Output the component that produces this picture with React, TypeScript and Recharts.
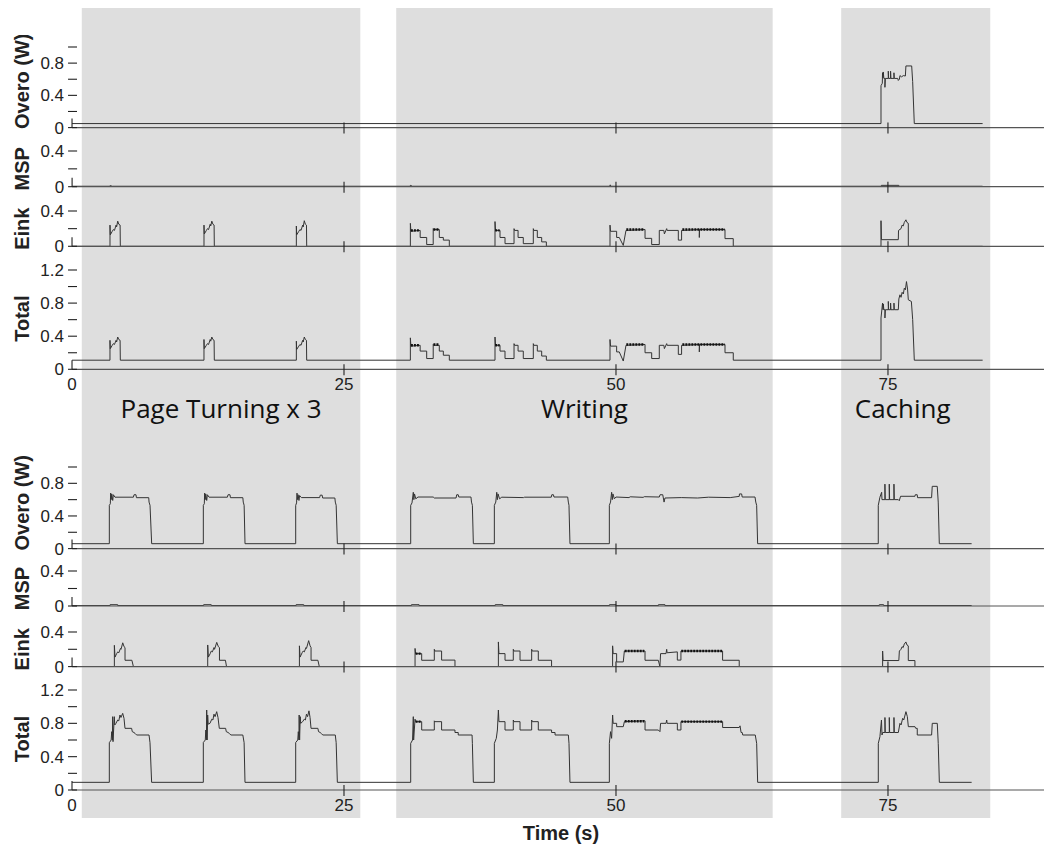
import { Label, Line, LineChart, ReferenceArea, XAxis, YAxis } from "recharts";

type Pt = [number, number];
type Seg = [number, number, number];

// time axis (s)
const X_MAX = 89.34;
const xTicks = [0, 25, 50, 75];

// shaded phases
const bandNames = ["Page Turning x 3", "Writing", "Caching"];
const bandStart = [0.9, 29.8, 70.7];
const bandEnd = [26.5, 64.4, 84.4];
const bandLabelShift = [0, 0, -13];

// ---- upper run ----
const overoTop: Pt[] = [
  [0, 0.05], [74.36, 0.05], [74.36, 0.52], [74.48, 0.55], [74.5, 0.68], [74.55, 0.62], [74.57, 0.69],
  [74.62, 0.61], [74.72, 0.61], [74.72, 0.5], [74.76, 0.61], [75.03, 0.61], [75.03, 0.7], [75.06, 0.61],
  [75.24, 0.61], [75.24, 0.7], [75.27, 0.61], [75.55, 0.61], [75.55, 0.68], [75.58, 0.61], [75.9, 0.61],
  [75.95, 0.585], [76.05, 0.6], [76.1, 0.645], [76.25, 0.63], [76.41, 0.645], [76.6, 0.64], [76.65, 0.765],
  [77.18, 0.765], [77.27, 0.57], [77.42, 0.05], [83.7, 0.05],
];

const mspTop: Pt[] = [
  [0, 0.005], [3.5, 0.005], [3.5, 0.012], [3.7, 0.005], [31.1, 0.005], [31.1, 0.015], [31.3, 0.005],
  [49.45, 0.005], [49.45, 0.02], [49.6, 0.005], [74.4, 0.005], [74.4, 0.015], [76.0, 0.015], [76.0, 0.005],
  [83.7, 0.005],
];

const einkTop: Pt[] = [
  [0, 0], [3.49, 0], [3.49, 0.24], [3.52, 0.13], [3.7, 0.17], [3.8, 0.19], [3.9, 0.18], [4.05, 0.24],
  [4.1, 0.22], [4.2, 0.285], [4.3, 0.25], [4.42, 0.24], [4.44, 0],
  [12.13, 0], [12.13, 0.24], [12.16, 0.14], [12.35, 0.18], [12.45, 0.2], [12.55, 0.19], [12.7, 0.25],
  [12.75, 0.23], [12.85, 0.285], [12.95, 0.25], [13.06, 0.24], [13.08, 0],
  [20.62, 0], [20.62, 0.23], [20.65, 0.13], [20.85, 0.17], [20.95, 0.19], [21.05, 0.18], [21.2, 0.24],
  [21.25, 0.22], [21.35, 0.29], [21.45, 0.25], [21.55, 0.24], [21.57, 0],
  [31.1, 0], [31.1, 0.26], [31.15, 0.17], [32.0, 0.18], [32.0, 0.1], [32.6, 0.1], [32.6, 0.02], [33.2, 0.02],
  [33.2, 0.2], [33.25, 0.19], [33.76, 0.19], [33.76, 0.1], [34.13, 0.1], [34.13, 0.07], [34.68, 0.07], [34.68, 0],
  [38.88, 0], [38.88, 0.28], [38.93, 0.18], [39.34, 0.18], [39.34, 0.1], [39.8, 0.1], [39.8, 0.03], [40.63, 0.03],
  [40.63, 0.2], [40.68, 0.18], [41.0, 0.18], [41.0, 0.1], [41.48, 0.1], [41.48, 0.03], [42.4, 0.03], [42.4, 0.2],
  [42.45, 0.18], [42.77, 0.18], [42.77, 0.1], [43.17, 0.1], [43.17, 0.05], [43.6, 0.05], [43.6, 0],
  [49.45, 0], [49.45, 0.24], [49.5, 0.17], [50.06, 0.17], [50.06, 0.1], [50.3, 0.1], [50.67, 0.01], [50.92, 0.18],
  [52.67, 0.19], [52.67, 0.09], [53.28, 0.09], [53.28, 0.02], [53.98, 0.02], [53.98, 0.18], [54.4, 0.18],
  [54.45, 0.14], [54.66, 0.2], [54.7, 0.18], [55.73, 0.18], [55.73, 0.07], [56.03, 0.07], [56.03, 0.18],
  [57.66, 0.19], [57.66, 0.1], [57.68, 0.19], [60.02, 0.19], [60.02, 0.087], [60.78, 0.087], [60.78, 0],
  [74.36, 0], [74.36, 0.29], [74.4, 0.075], [75.95, 0.075], [75.97, 0.18], [76.2, 0.2], [76.3, 0.24],
  [76.4, 0.23], [76.5, 0.27], [76.65, 0.3], [76.75, 0.27], [76.87, 0.26], [76.87, 0], [83.7, 0],
];
const einkTopDense: Seg[] = [
  [31.15, 31.95, 0.18], [33.22, 33.7, 0.19], [38.9, 39.3, 0.18], [50.95, 52.6, 0.19], [56.1, 60.0, 0.19],
];

const totalTop: Pt[] = [
  [0, 0.11], [3.49, 0.11], [3.49, 0.35], [3.52, 0.25], [3.7, 0.29], [3.8, 0.31], [3.9, 0.3], [4.05, 0.35],
  [4.1, 0.33], [4.2, 0.39], [4.3, 0.36], [4.42, 0.35], [4.44, 0.11],
  [12.13, 0.11], [12.13, 0.36], [12.16, 0.25], [12.35, 0.29], [12.45, 0.31], [12.55, 0.3], [12.7, 0.36],
  [12.75, 0.34], [12.85, 0.39], [12.95, 0.36], [13.06, 0.35], [13.08, 0.11],
  [20.62, 0.11], [20.62, 0.34], [20.65, 0.24], [20.85, 0.28], [20.95, 0.3], [21.05, 0.29], [21.2, 0.35],
  [21.25, 0.33], [21.35, 0.39], [21.45, 0.36], [21.55, 0.35], [21.57, 0.11],
  [31.1, 0.11], [31.1, 0.38], [31.15, 0.28], [32.0, 0.29], [32.0, 0.22], [32.6, 0.22], [32.6, 0.13], [33.2, 0.13],
  [33.2, 0.3], [33.25, 0.29], [33.76, 0.29], [33.76, 0.22], [34.13, 0.22], [34.13, 0.17], [34.68, 0.17],
  [34.68, 0.11],
  [38.88, 0.11], [38.88, 0.39], [38.93, 0.29], [39.34, 0.29], [39.34, 0.22], [39.8, 0.22], [39.8, 0.13],
  [40.63, 0.13], [40.63, 0.31], [40.68, 0.29], [41.0, 0.29], [41.0, 0.22], [41.48, 0.22], [41.48, 0.13],
  [42.4, 0.13], [42.4, 0.31], [42.45, 0.29], [42.77, 0.29], [42.77, 0.22], [43.17, 0.22], [43.17, 0.16],
  [43.6, 0.16], [43.6, 0.11],
  [49.45, 0.11], [49.45, 0.36], [49.5, 0.28], [50.06, 0.28], [50.06, 0.21], [50.3, 0.21], [50.67, 0.1],
  [50.92, 0.29], [52.67, 0.3], [52.67, 0.2], [53.28, 0.2], [53.28, 0.13], [53.98, 0.13], [53.98, 0.29],
  [54.4, 0.29], [54.45, 0.25], [54.66, 0.31], [54.7, 0.29], [55.73, 0.29], [55.73, 0.18], [56.03, 0.18],
  [56.03, 0.29], [57.66, 0.3], [57.66, 0.21], [57.68, 0.3], [60.02, 0.3], [60.02, 0.2], [60.78, 0.2],
  [60.78, 0.11],
  [74.36, 0.11], [74.36, 0.62], [74.5, 0.8], [74.55, 0.72], [74.57, 0.79], [74.62, 0.72], [74.72, 0.72],
  [74.72, 0.62], [74.76, 0.72], [75.03, 0.72], [75.03, 0.82], [75.06, 0.72], [75.24, 0.72], [75.24, 0.8],
  [75.27, 0.72], [75.55, 0.72], [75.55, 0.8], [75.58, 0.72], [75.95, 0.72], [76.0, 0.85], [76.1, 0.9],
  [76.2, 0.87], [76.3, 0.93], [76.41, 0.91], [76.5, 0.98], [76.6, 0.96], [76.7, 1.06], [76.8, 0.97],
  [76.87, 0.84], [77.15, 0.82], [77.27, 0.6], [77.42, 0.11], [83.7, 0.11],
];
const totalTopDense: Seg[] = [
  [31.15, 31.95, 0.29], [33.22, 33.7, 0.3], [38.9, 39.3, 0.29], [50.95, 52.6, 0.3], [56.1, 60.0, 0.3],
];

// ---- lower run ----
const overoBottom: Pt[] = [
  [0, 0.06], [3.43, 0.06], [3.43, 0.53], [3.52, 0.55], [3.55, 0.68], [3.6, 0.6], [3.65, 0.67], [3.74, 0.59],
  [3.8, 0.66], [3.95, 0.63], [5.64, 0.63], [5.7, 0.66], [5.88, 0.66], [5.92, 0.624], [7.05, 0.624],
  [7.08, 0.57], [7.17, 0.53], [7.32, 0.06],
  [12.07, 0.06], [12.07, 0.53], [12.16, 0.55], [12.19, 0.68], [12.24, 0.6], [12.29, 0.67], [12.38, 0.59],
  [12.44, 0.66], [12.6, 0.63], [14.28, 0.63], [14.34, 0.66], [14.52, 0.66], [14.56, 0.624], [15.7, 0.624],
  [15.74, 0.57], [15.82, 0.53], [15.9, 0.06],
  [20.56, 0.06], [20.56, 0.53], [20.64, 0.56], [20.68, 0.68], [20.73, 0.6], [20.78, 0.66], [20.86, 0.59],
  [20.92, 0.65], [21.08, 0.625], [22.76, 0.625], [22.82, 0.655], [22.99, 0.655], [23.04, 0.62], [24.16, 0.62],
  [24.2, 0.57], [24.28, 0.53], [24.39, 0.06],
  [31.13, 0.06], [31.13, 0.53], [31.25, 0.56], [31.37, 0.69], [31.42, 0.6], [31.48, 0.67], [31.6, 0.61],
  [31.8, 0.632], [33.2, 0.632], [33.3, 0.62], [35.3, 0.62], [35.36, 0.66], [35.5, 0.66], [35.55, 0.632],
  [36.67, 0.632], [36.72, 0.57], [36.8, 0.53], [36.89, 0.06],
  [38.82, 0.06], [38.82, 0.53], [38.95, 0.57], [39.04, 0.69], [39.1, 0.6], [39.16, 0.67], [39.3, 0.61],
  [39.5, 0.63], [41.5, 0.625], [41.6, 0.63], [44.05, 0.63], [44.1, 0.66], [44.25, 0.66], [44.3, 0.632],
  [45.56, 0.632], [45.62, 0.57], [45.68, 0.53], [45.77, 0.06],
  [49.39, 0.06], [49.39, 0.53], [49.5, 0.57], [49.6, 0.69], [49.66, 0.6], [49.72, 0.67], [49.85, 0.61],
  [50.0, 0.632], [51.2, 0.625], [51.3, 0.635], [52.5, 0.628], [52.6, 0.636], [53.98, 0.632], [54.05, 0.66],
  [54.3, 0.66], [54.42, 0.57], [54.5, 0.62], [56.0, 0.625], [57.5, 0.62], [58.5, 0.63], [60.5, 0.625],
  [61.33, 0.64], [61.35, 0.67], [61.55, 0.67], [61.6, 0.632], [62.78, 0.632], [62.85, 0.57], [62.93, 0.53],
  [63.02, 0.06],
  [74.11, 0.06], [74.11, 0.53], [74.26, 0.63], [74.42, 0.69], [74.45, 0.6], [74.72, 0.6], [74.72, 0.79],
  [74.75, 0.6], [75.12, 0.6], [75.12, 0.79], [75.15, 0.6], [75.55, 0.6], [75.55, 0.79], [75.58, 0.6],
  [75.95, 0.6], [76.04, 0.587], [76.16, 0.641], [77.48, 0.641], [77.51, 0.66], [77.69, 0.66], [77.72, 0.624],
  [79.01, 0.624], [79.07, 0.763], [79.53, 0.763], [79.62, 0.57], [79.72, 0.06], [82.69, 0.06],
];

const mspBottom: Pt[] = [
  [0, 0.005], [3.5, 0.005], [3.5, 0.015], [4.2, 0.015], [4.2, 0.005], [12.1, 0.005], [12.1, 0.015],
  [12.8, 0.015], [12.8, 0.005], [20.6, 0.005], [20.6, 0.015], [21.3, 0.015], [21.3, 0.005], [31.2, 0.005],
  [31.2, 0.015], [31.9, 0.015], [31.9, 0.005], [38.9, 0.005], [38.9, 0.015], [39.6, 0.015], [39.6, 0.005],
  [49.4, 0.005], [49.4, 0.015], [50.0, 0.015], [50.0, 0.005], [53.9, 0.005], [53.9, 0.015], [54.5, 0.015],
  [54.5, 0.005], [74.2, 0.005], [74.2, 0.015], [74.6, 0.015], [74.6, 0.005], [82.69, 0.005],
];

const einkBottom: Pt[] = [
  [0, 0], [3.89, 0], [3.89, 0.246], [3.95, 0.11], [4.1, 0.15], [4.2, 0.17], [4.3, 0.16], [4.45, 0.21],
  [4.5, 0.2], [4.66, 0.275], [4.78, 0.23], [4.87, 0.22], [4.87, 0.073], [5.5, 0.073], [5.64, 0],
  [12.47, 0], [12.47, 0.25], [12.53, 0.11], [12.7, 0.15], [12.8, 0.18], [12.9, 0.17], [13.05, 0.22],
  [13.1, 0.2], [13.3, 0.28], [13.45, 0.23], [13.55, 0.22], [13.55, 0.073], [14.1, 0.073], [14.2, 0],
  [20.9, 0], [20.9, 0.24], [20.96, 0.11], [21.15, 0.16], [21.25, 0.18], [21.35, 0.17], [21.5, 0.22],
  [21.55, 0.21], [21.75, 0.3], [21.88, 0.24], [21.97, 0.22], [21.97, 0.073], [22.6, 0.073], [22.73, 0],
  [31.53, 0], [31.53, 0.21], [31.58, 0.15], [32.14, 0.15], [32.14, 0.073], [33.3, 0.073], [33.3, 0.2],
  [33.35, 0.18], [33.97, 0.18], [33.97, 0.075], [35.2, 0.075], [35.2, 0],
  [39.19, 0], [39.19, 0.285], [39.24, 0.15], [39.8, 0.15], [39.8, 0.073], [40.56, 0.073], [40.56, 0.2],
  [40.62, 0.18], [41.18, 0.18], [41.18, 0.073], [42.25, 0.073], [42.25, 0.2], [42.3, 0.18], [42.86, 0.18],
  [42.86, 0.073], [44.08, 0.073], [44.08, 0],
  [49.69, 0], [49.69, 0.24], [49.74, 0.15], [50.06, 0.15], [50.06, 0.054], [50.67, 0.054], [50.77, 0.18],
  [52.67, 0.18], [52.67, 0.073], [53.89, 0.073], [54.04, 0], [54.1, 0.15], [54.6, 0.15], [54.66, 0.2],
  [54.7, 0.16], [55.64, 0.17], [55.64, 0.075], [55.97, 0.075], [55.97, 0.18], [59.8, 0.18], [59.8, 0.073],
  [61.33, 0.073], [61.33, 0],
  [74.51, 0], [74.51, 0.18], [74.55, 0.07], [76.0, 0.07], [76.05, 0.18], [76.2, 0.2], [76.3, 0.23],
  [76.4, 0.22], [76.5, 0.26], [76.65, 0.285], [76.75, 0.25], [76.87, 0.24], [76.87, 0.07], [77.48, 0.07],
  [77.48, 0], [82.69, 0],
];
const einkBottomDense: Seg[] = [[31.58, 32.1, 0.15], [50.8, 52.6, 0.18], [56.0, 59.75, 0.18]];

const totalBottom: Pt[] = [
  [0, 0.092], [3.43, 0.092], [3.43, 0.568], [3.6, 0.6], [3.65, 0.7], [3.72, 0.6], [3.74, 0.88], [3.77, 0.58],
  [3.89, 0.88], [3.93, 0.78], [4.04, 0.8], [4.2, 0.84], [4.3, 0.83], [4.41, 0.9], [4.5, 0.87], [4.66, 0.92],
  [4.78, 0.86], [4.87, 0.74], [5.48, 0.74], [5.54, 0.7], [5.7, 0.69], [5.79, 0.68], [5.94, 0.66], [7.08, 0.66],
  [7.17, 0.568], [7.32, 0.092],
  [12.07, 0.092], [12.07, 0.57], [12.25, 0.6], [12.3, 0.72], [12.36, 0.6], [12.38, 0.96], [12.42, 0.6],
  [12.47, 0.9], [12.52, 0.79], [12.68, 0.8], [12.85, 0.85], [12.95, 0.84], [13.05, 0.91], [13.15, 0.88],
  [13.3, 0.94], [13.42, 0.87], [13.54, 0.74], [14.12, 0.74], [14.18, 0.7], [14.35, 0.69], [14.45, 0.68],
  [14.6, 0.66], [15.7, 0.66], [15.82, 0.568], [15.9, 0.092],
  [20.56, 0.092], [20.56, 0.57], [20.75, 0.6], [20.8, 0.7], [20.86, 0.6], [20.88, 0.9], [20.92, 0.6],
  [20.98, 0.88], [21.02, 0.8], [21.2, 0.82], [21.35, 0.85], [21.45, 0.84], [21.55, 0.91], [21.65, 0.88],
  [21.78, 0.95], [21.88, 0.87], [21.97, 0.74], [22.6, 0.74], [22.66, 0.7], [22.82, 0.69], [22.9, 0.68],
  [23.05, 0.66], [24.2, 0.66], [24.28, 0.568], [24.39, 0.092],
  [31.13, 0.092], [31.13, 0.56], [31.3, 0.6], [31.37, 0.88], [31.4, 0.6], [31.53, 0.85], [31.58, 0.82],
  [32.14, 0.82], [32.14, 0.72], [33.3, 0.72], [33.3, 0.83], [33.35, 0.82], [33.97, 0.82], [33.97, 0.72],
  [35.2, 0.72], [35.2, 0.69], [35.5, 0.69], [35.5, 0.66], [36.77, 0.66], [36.8, 0.56], [36.89, 0.092],
  [38.82, 0.092], [38.82, 0.56], [39.0, 0.62], [39.1, 0.72], [39.19, 0.96], [39.24, 0.82], [39.8, 0.82],
  [39.8, 0.72], [40.56, 0.72], [40.56, 0.84], [40.62, 0.82], [41.18, 0.82], [41.18, 0.72], [42.25, 0.72],
  [42.25, 0.84], [42.3, 0.82], [42.86, 0.82], [42.86, 0.72], [44.08, 0.72], [44.08, 0.69], [44.4, 0.69],
  [44.4, 0.66], [45.62, 0.66], [45.68, 0.56], [45.77, 0.092],
  [49.39, 0.092], [49.39, 0.56], [49.5, 0.7], [49.6, 0.62], [49.69, 0.9], [49.74, 0.8], [50.06, 0.8],
  [50.06, 0.76], [50.67, 0.76], [50.77, 0.82], [52.67, 0.83], [52.67, 0.72], [53.89, 0.72], [54.04, 0.7],
  [54.1, 0.8], [54.6, 0.8], [54.66, 0.84], [54.7, 0.8], [55.64, 0.8], [55.64, 0.72], [55.97, 0.72],
  [55.97, 0.82], [59.8, 0.82], [59.8, 0.75], [61.33, 0.75], [61.4, 0.77], [61.5, 0.69], [61.6, 0.69],
  [61.65, 0.66], [62.8, 0.66], [62.93, 0.56], [63.02, 0.092],
  [74.11, 0.092], [74.11, 0.56], [74.26, 0.64], [74.4, 0.84], [74.45, 0.66], [74.51, 0.69], [74.72, 0.69],
  [74.72, 0.87], [74.75, 0.69], [75.12, 0.69], [75.12, 0.87], [75.15, 0.69], [75.55, 0.69], [75.55, 0.87],
  [75.58, 0.69], [75.95, 0.69], [76.1, 0.8], [76.2, 0.78], [76.35, 0.86], [76.45, 0.84], [76.65, 0.94],
  [76.78, 0.88], [76.87, 0.76], [77.48, 0.76], [77.55, 0.74], [77.69, 0.74], [77.69, 0.66], [79.01, 0.66],
  [79.07, 0.8], [79.53, 0.8], [79.62, 0.56], [79.72, 0.092], [82.69, 0.092],
];
const totalBottomDense: Seg[] = [[31.58, 32.1, 0.82], [50.8, 52.6, 0.825], [56.0, 59.75, 0.82]];

const FONT = "'Liberation Sans', Arial, Helvetica, sans-serif";

type PanelDef = {
  title: string;
  data: Pt[];
  dense: Seg[];
  max: number;
  top: number; // pixel row of the max value
  zero: number; // pixel row of 0
  titleDy: number;
  showX: boolean;
  timeLabel: boolean;
};

const panels: PanelDef[] = [
  { title: "Overo (W)", data: overoTop, dense: [], max: 1.0, top: 46.7, zero: 127.3, titleDy: -6, showX: false, timeLabel: false },
  { title: "MSP", data: mspTop, dense: [], max: 0.4, top: 151, zero: 186.7, titleDy: 0, showX: false, timeLabel: false },
  { title: "Eink", data: einkTop, dense: einkTopDense, max: 0.4, top: 210.7, zero: 246, titleDy: 0, showX: false, timeLabel: false },
  { title: "Total", data: totalTop, dense: totalTopDense, max: 1.2, top: 270, zero: 369.3, titleDy: -1, showX: true, timeLabel: false },
  { title: "Overo (W)", data: overoBottom, dense: [], max: 1.0, top: 466.7, zero: 548.3, titleDy: -5, showX: false, timeLabel: false },
  { title: "MSP", data: mspBottom, dense: [], max: 0.4, top: 570.7, zero: 605.7, titleDy: 0, showX: false, timeLabel: false },
  { title: "Eink", data: einkBottom, dense: einkBottomDense, max: 0.4, top: 631.7, zero: 666.3, titleDy: 0, showX: false, timeLabel: false },
  { title: "Total", data: totalBottom, dense: totalBottomDense, max: 1.2, top: 690, zero: 790, titleDy: -1, showX: true, timeLabel: true },
];

const toRows = (pts: Pt[]) => pts.map(([t, v]) => ({ t, v }));
const toDense = (segs: Seg[]) =>
  segs.flatMap(([a, b, v]) => [
    { t: a, v },
    { t: b, v },
    { t: b, v: null as number | null },
  ]);

const yTicksFor = (max: number) => {
  const out: number[] = [];
  for (let i = 0; i <= Math.round(max / 0.2); i++) out.push(Math.round(i * 0.2 * 10) / 10);
  return out;
};

const YTick = (props: any) => {
  const { x, y, payload } = props;
  const v = payload.value as number;
  const labeled = Math.abs(v / 0.4 - Math.round(v / 0.4)) < 1e-6;
  return (
    <g>
      <line x1={x - 4} x2={x + 5} y1={y} y2={y} stroke="#222" strokeWidth={1.1} />
      {labeled && (
        <text x={x - 8} y={y + 6} textAnchor="end" fontFamily={FONT} fontSize={17} fill="#222">
          {v === 0 ? "0" : v.toFixed(1)}
        </text>
      )}
    </g>
  );
};

const XTick = (props: any) => {
  const { x, y, payload, showLabel } = props;
  const v = payload.value as number;
  return (
    <g>
      <line x1={x} x2={x} y1={v === 0 ? y - 9 : y - 5} y2={v === 0 ? y : y + 6} stroke="#222" strokeWidth={1.1} />
      {showLabel && (
        <text x={x} y={y + 21} textAnchor="middle" fontFamily={FONT} fontSize={17} fill="#222">
          {v}
        </text>
      )}
    </g>
  );
};

const PAD_T = 12;

function Panel({ p }: { p: PanelDef }) {
  const padB = p.timeLabel ? 58 : p.showX ? 30 : 12;
  const plotH = p.zero - p.top;
  const h = PAD_T + plotH + padB;
  const mid = PAD_T + plotH / 2 + p.titleDy;
  return (
    <div style={{ position: "absolute", left: 0, top: p.top - PAD_T }}>
      <LineChart width={1044} height={h} margin={{ top: PAD_T, right: 0, bottom: 0, left: 0 }}>
        <XAxis
          type="number"
          dataKey="t"
          domain={[0, X_MAX]}
          allowDataOverflow
          ticks={xTicks}
          interval={0}
          height={padB}
          tickSize={0}
          tickMargin={0}
          tickLine={false}
          axisLine={{ stroke: "#555", strokeWidth: 1.2 }}
          tick={(tp: any) => <XTick {...tp} showLabel={p.showX} />}
        >
          {p.timeLabel && (
            <Label
              content={() => (
                <text x={561} y={PAD_T + plotH + 50} textAnchor="middle" fontFamily={FONT} fontSize={20} fontWeight="bold" fill="#222">
                  Time (s)
                </text>
              )}
            />
          )}
        </XAxis>
        <YAxis
          type="number"
          domain={[0, p.max]}
          allowDataOverflow
          ticks={yTicksFor(p.max)}
          interval={0}
          width={72}
          tickSize={0}
          tickMargin={0}
          tickLine={false}
          axisLine={false}
          tick={<YTick />}
        >
          <Label
            content={() => (
              <text
                transform={`translate(29, ${mid}) rotate(-90)`}
                textAnchor="middle"
                fontFamily={FONT}
                fontSize={20}
                fontWeight="bold"
                fill="#222"
              >
                {p.title}
              </text>
            )}
          />
        </YAxis>
        <Line
          data={toRows(p.data)}
          dataKey="v"
          type="linear"
          stroke="#333"
          strokeWidth={1}
          dot={false}
          activeDot={false}
          isAnimationActive={false}
        />
        {p.dense.length > 0 && (
          <Line
            data={toDense(p.dense)}
            dataKey="v"
            type="linear"
            stroke="#111"
            strokeWidth={2.4}
            strokeDasharray="2 1"
            dot={false}
            activeDot={false}
            isAnimationActive={false}
          />
        )}
      </LineChart>
    </div>
  );
}

export default function App() {
  return (
    <div style={{ position: "absolute", left: 0, top: 0, width: 1044, height: 848, background: "#fff" }}>
      <div style={{ position: "absolute", left: 0, top: 0 }}>
        <LineChart width={1044} height={848} margin={{ top: 8, right: 0, bottom: 30, left: 72 }}>
          <XAxis type="number" dataKey="t" domain={[0, X_MAX]} allowDataOverflow hide />
          <YAxis type="number" domain={[0, 1]} hide />
          {bandNames.map((name, i) => (
            <ReferenceArea
              key={name}
              x1={bandStart[i]}
              x2={bandEnd[i]}
              y1={0}
              y2={1}
              fill="#dedede"
              fillOpacity={1}
              stroke="none"
              label={{
                content: (lp: any) => {
                  const vb = lp.viewBox || { x: 0, width: 0 };
                  return (
                    <text
                      x={vb.x + vb.width / 2 + bandLabelShift[i]}
                      y={418}
                      textAnchor="middle"
                      fontFamily="'Open Sans', sans-serif"
                      fontSize={26}
                      fill="#111"
                    >
                      {name}
                    </text>
                  );
                },
              }}
            />
          ))}
          <Line
            data={[{ t: 0, v: 0 }, { t: X_MAX, v: 0 }]}
            dataKey="v"
            stroke="none"
            dot={false}
            activeDot={false}
            isAnimationActive={false}
          />
        </LineChart>
      </div>
      {panels.map((p, i) => (
        <Panel key={i} p={p} />
      ))}
    </div>
  );
}
